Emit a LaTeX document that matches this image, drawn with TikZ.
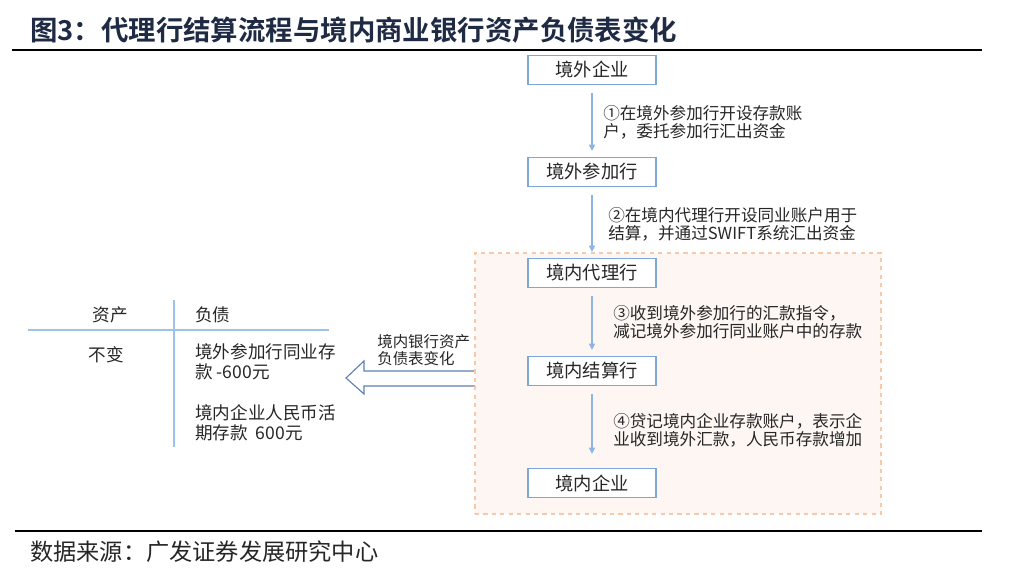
\documentclass[tikz,border=0pt]{standalone}
\usepackage{fontspec}
\setmainfont{Noto Sans CJK SC}[BoldFont={Noto Sans CJK SC Bold}]
\usepackage{xcolor}
\usetikzlibrary{arrows.meta,positioning}
\definecolor{boxblue}{HTML}{7FA7D6}
\definecolor{flowblue}{HTML}{8EB4E3}
\definecolor{navy}{HTML}{1F2A44}
\definecolor{txtgray}{HTML}{262626}
\definecolor{dashorange}{HTML}{F7C9A9}
\definecolor{paleorange}{HTML}{FDF6F2}
\definecolor{blockblue}{HTML}{5E80B2}
\definecolor{tabblue}{HTML}{9DC3E6}

\begin{document}
\begin{tikzpicture}[x=0.025cm, y=-0.025cm,
    every node/.style={text=txtgray},
    bank/.style={draw=boxblue, line width=0.9pt, fill=white, minimum width=3.2cm, minimum height=0.725cm, font=\fontsize{13}{14}\selectfont},
    flow/.style={-{Triangle[width=4.5pt,length=4.5pt]}, flowblue, line width=0.8pt, shorten <=0.2cm, shorten >=0.15cm},
    note/.style={anchor=west, inner sep=0pt, align=left, font=\fontsize{11.8}{12.8}\selectfont},
    cell/.style={inner sep=0pt, align=left, font=\fontsize{12.5}{14.5}\selectfont}]
    \useasboundingbox (0,0) rectangle (1010,570);

    % title and rules
    \node[anchor=west, inner sep=0pt, text=navy, font=\fontsize{19.5}{20}\bfseries\selectfont] (title) at (30,30) {图3：代理行结算流程与境内商业银行资产负债表变化};
    \draw[line width=1.1pt] (12,50) -- (982,50);
    \draw[line width=1.1pt] (15,531) -- (982,531);
    \node[anchor=west, inner sep=0pt, font=\fontsize{16.5}{17}\selectfont] (src) at (30,552) {数据来源：广发证券发展研究中心};

    % balance sheet change arrow
    \draw[blockblue, line width=0.8pt, fill=white] (477,371) -- (364,371) -- (364,361) -- (346,378) -- (364,394) -- (364,386) -- (477,386);
    \node[note, font=\fontsize{11}{12.3}\selectfont] (chg) at (377,350) {境内银行资产\\负债表变化};

    % domestic part
    \node[draw=dashorange, dashed, line width=0.9pt, fill=paleorange, minimum width=10.15cm, minimum height=6.525cm, inner sep=0pt] (dom) at (678,383.5) {};

    % flow
    \node[bank] (wqy) at (592,70) {境外企业};
    \node[bank] (cjh) at (592,172) {境外参加行};
    \node[bank] (dlh) at (592,273) {境内代理行};
    \node[bank] (jsh) at (592,371) {境内结算行};
    \node[bank] (jnqy) at (592,483) {境内企业};

    \draw[flow] (wqy) -- (cjh);
    \draw[flow] (cjh) -- (dlh);
    \draw[flow] (dlh) -- (jsh);
    \draw[flow, shorten >=0.35cm] (jsh) -- (jnqy);

    \node[note] (s1) at (603,122) {①在境外参加行开设存款账\\户，委托参加行汇出资金};
    \node[note] (s2) at (608,224) {②在境内代理行开设同业账户用于\\结算，并通过SWIFT系统汇出资金};
    \node[note] (s3) at (613,322) {③收到境外参加行的汇款指令，\\减记境外参加行同业账户中的存款};
    \node[note] (s4) at (613,430) {④贷记境内企业存款账户，表示企\\业收到境外汇款，人民币存款增加};

    % balance sheet
    \draw[tabblue, line width=0.8pt] (28,330) -- (329,330);
    \draw[tabblue, line width=0.8pt] (174,300) -- (174,447);
    \node[cell] (zc) at (110,315) {资产};
    \node[cell, anchor=west] (fz) at (195,315) {负债};
    \node[cell] (bb) at (106,355) {不变};
    \node[cell, anchor=west] (ty) at (195,362) {境外参加行同业存\\款 -600元};
    \node[cell, anchor=west] (hq) at (195,423) {境内企业人民币活\\期存款 \ 600元};
\end{tikzpicture}
\end{document}
